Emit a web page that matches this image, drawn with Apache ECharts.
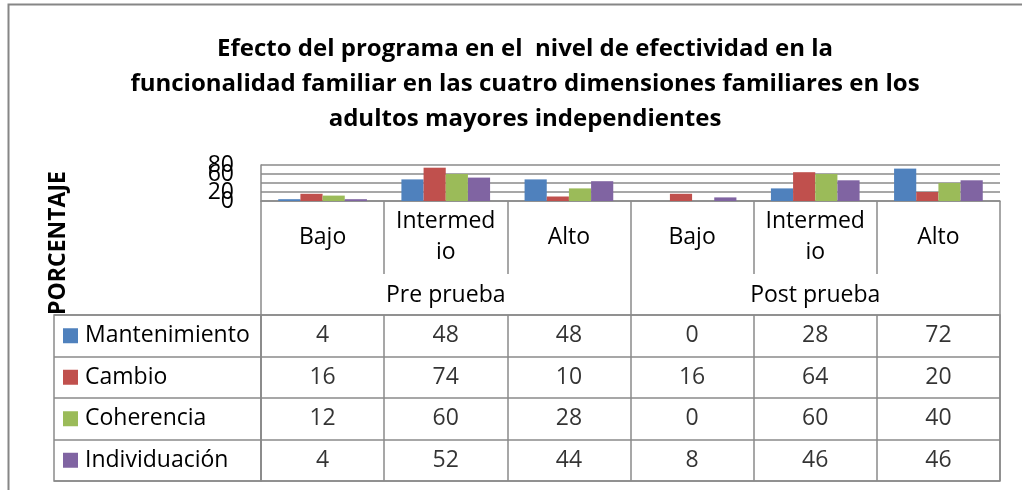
<!DOCTYPE html>
<html>
<head>
<meta charset="utf-8">
<script src="https://cdn.jsdelivr.net/npm/echarts@6/dist/echarts.min.js"></script>
<style>
  html, body { margin: 0; padding: 0; background: #fff; }
  #chart { width: 1022px; height: 490px; }
</style>
</head>
<body>
<div id="chart"></div>
<script>
// datos de la tabla
const categories = ["Bajo", "Intermed\nio", "Alto", "Bajo", "Intermed\nio", "Alto"];
const groups = ["Pre prueba", "Post prueba"];
const seriesNames = ["Mantenimiento", "Cambio", "Coherencia", "Individuación"];
const mantenimiento = [4, 48, 48, 0, 28, 72];
const cambio = [16, 74, 10, 16, 64, 20];
const coherencia = [12, 60, 28, 0, 60, 40];
const individuacion = [4, 52, 44, 8, 46, 46];
const yTicks = [0, 20, 40, 60, 80];
const colors = ["#4F81BD", "#C0504D", "#9BBB59", "#8064A2"];

const FONT = "Open Sans";
const FS = 23;
const LINE = "#8a8a8a";
const allValues = [mantenimiento, cambio, coherencia, individuacion];

// celdas de la tabla
let cells = [];
allValues.forEach(function (arr, r) {
  arr.forEach(function (v, c) {
    cells.push([c, r, v]);
  });
});

let rich = {};
colors.forEach(function (col, i) {
  rich["k" + i] = { backgroundColor: col, width: 15, height: 15 };
});
rich.t = { fontSize: FS, fontFamily: FONT, color: "#000", padding: [0, 0, 0, 7] };

// las etiquetas del eje y se solapan (como en el original): se reparten en tres ejes
function labelAxis(values) {
  return {
    type: "value",
    gridIndex: 0,
    position: "left",
    min: 0,
    max: 80,
    interval: 20,
    axisLine: { show: false },
    axisTick: { show: false },
    splitLine: { show: false },
    axisLabel: { margin: 27, customValues: values, fontFamily: FONT, fontSize: FS, color: "#000", showMinLabel: true, showMaxLabel: true }
  };
}

let myChart = echarts.init(document.getElementById("chart"));
myChart.setOption({
  animation: false,
  title: {
    text: "Efecto del programa en el  nivel de efectividad en la\nfuncionalidad familiar en las cuatro dimensiones familiares en los\nadultos mayores independientes",
    left: 520,
    top: 27,
    textAlign: "center",
    textStyle: { fontFamily: FONT, fontWeight: "bold", fontSize: 24, lineHeight: 35, color: "#000" }
  },
  graphic: [
    {
      type: "rect",
      shape: { x: 8.5, y: 4.5, width: 1100, height: 600 },
      style: { fill: "none", stroke: "#868686", lineWidth: 2 },
      silent: true
    },
    {
      type: "text",
      x: 58,
      y: 243,
      rotation: Math.PI / 2,
      style: {
        text: "PORCENTAJE",
        fontFamily: FONT,
        fontWeight: "bold",
        fontSize: 23,
        fill: "#000",
        align: "center",
        verticalAlign: "middle"
      }
    }
  ],
  grid: [
    { left: 261, top: 165, width: 739, height: 36 },
    { left: 54, top: 315, width: 207, height: 166, show: true, borderColor: LINE, borderWidth: 1.5, backgroundColor: "transparent" },
    { left: 261, top: 315, width: 739, height: 166, show: true, borderColor: LINE, borderWidth: 1.5, backgroundColor: "transparent" }
  ],
  xAxis: [
    {
      type: "category",
      gridIndex: 0,
      position: "bottom",
      data: categories,
      axisLine: { lineStyle: { color: LINE, width: 1.5 } },
      axisTick: { show: true, interval: 0, length: 73, lineStyle: { color: LINE, width: 1.5 } },
      axisLabel: { margin: 36, verticalAlign: "middle", fontFamily: FONT, fontSize: FS, lineHeight: 31, color: "#000", interval: 0 }
    },
    {
      type: "category",
      gridIndex: 0,
      position: "bottom",
      offset: 0,
      data: groups,
      axisLine: { show: false },
      axisTick: { show: true, interval: 0, length: 114, lineStyle: { color: LINE, width: 1.5 } },
      axisLabel: { margin: 94, verticalAlign: "middle", fontFamily: FONT, fontSize: FS, color: "#000", interval: 0 }
    },
    {
      type: "category",
      gridIndex: 2,
      data: categories,
      axisLine: { show: false },
      axisTick: { show: false },
      axisLabel: { show: false },
      splitLine: { show: true, interval: 0, lineStyle: { color: LINE, width: 1.5 } }
    },
    {
      type: "category",
      gridIndex: 1,
      data: [""],
      show: false
    }
  ],
  yAxis: [
    {
      type: "value",
      gridIndex: 0,
      min: 0,
      max: 80,
      interval: 20,
      axisLine: { show: true, lineStyle: { color: LINE, width: 1.5 } },
      axisTick: { show: false },
      axisLabel: { margin: 27, customValues: [yTicks[0], yTicks[2], yTicks[4]], fontFamily: FONT, fontSize: FS, color: "#000", showMinLabel: true, showMaxLabel: true },
      splitLine: { lineStyle: { color: LINE, width: 1.5 } }
    },
    {
      type: "category",
      gridIndex: 1,
      inverse: true,
      data: seriesNames,
      axisLine: { show: false },
      axisTick: { show: false },
      splitLine: { show: true, interval: 0, lineStyle: { color: LINE, width: 1.5 } },
      axisLabel: {
        inside: true,
        margin: 9,
        align: "left",
        interval: 0,
        formatter: function (v, i) {
          return "{k" + i + "|}{t|" + v + "}";
        },
        rich: rich
      }
    },
    {
      type: "category",
      gridIndex: 2,
      inverse: true,
      data: seriesNames,
      axisLine: { show: false },
      axisTick: { show: false },
      axisLabel: { show: false },
      splitLine: { show: true, interval: 0, lineStyle: { color: LINE, width: 1.5 } }
    },
    labelAxis([yTicks[1]]),
    labelAxis([yTicks[3]])
  ],
  series: [
    { name: seriesNames[0], type: "bar", xAxisIndex: 0, yAxisIndex: 0, data: mantenimiento, itemStyle: { color: colors[0] }, barGap: "0%", barCategoryGap: "28%" },
    { name: seriesNames[1], type: "bar", xAxisIndex: 0, yAxisIndex: 0, data: cambio, itemStyle: { color: colors[1] } },
    { name: seriesNames[2], type: "bar", xAxisIndex: 0, yAxisIndex: 0, data: coherencia, itemStyle: { color: colors[2] } },
    { name: seriesNames[3], type: "bar", xAxisIndex: 0, yAxisIndex: 0, data: individuacion, itemStyle: { color: colors[3] } },
    {
      type: "scatter",
      xAxisIndex: 2,
      yAxisIndex: 2,
      data: cells,
      symbolSize: 1,
      itemStyle: { color: "transparent" },
      label: {
        show: true,
        position: "inside",
        formatter: function (p) { return p.value[2]; },
        fontFamily: FONT,
        fontSize: FS,
        color: "#000"
      },
      silent: true
    }
  ]
});
</script>
</body>
</html>
